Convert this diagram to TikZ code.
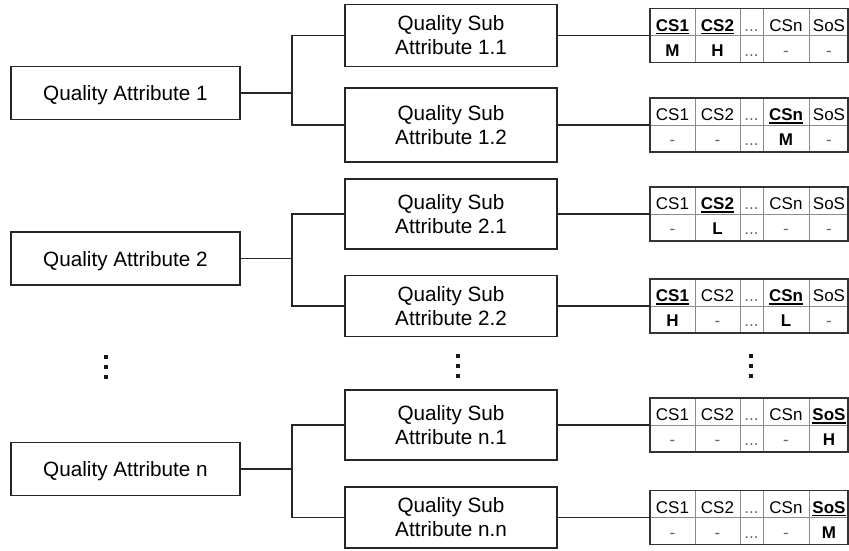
\documentclass[tikz,border=0pt]{standalone}
\usepackage{fontspec}
\setmainfont{Liberation Sans}
% bold, underlined header of the selected constituent system
\newcommand\hl[1]{\setbox0\hbox{\bfseries #1}\rlap{\rule[-3.1pt]{\wd0}{1.3pt}}\box0}
\newcommand\gr[1]{\textcolor{black!60}{#1}}
% table frame: name, centre y
\newcommand\cstable[2]{%
  \node[tablebox] (#1) at (749,#2) {};
  \draw[gridline] (#1.west) -- (#1.east);
  \foreach \gx in {695,740,763,809}
    \draw[gridline] (\gx,#2-27) -- (\gx,#2+27);
  \node[tablebox] at (749,#2) {};
}
% table cells: centre y, four headers, four values
\newcommand\cscells[9]{%
  \node[cell] at (672.5,#1-4.5) {#2};
  \node[cell] at (717.5,#1-4.5) {#3};
  \node[cell] at (751.5,#1-4.5) {\gr{...}};
  \node[cell] at (786,#1-4.5) {#4};
  \node[cell] at (829,#1-4.5) {#5};
  \node[cell] at (672.5,#1+20.7) {#6};
  \node[cell] at (717.5,#1+20.7) {#7};
  \node[cell] at (751.5,#1+20.7) {\gr{...}};
  \node[cell] at (786,#1+20.7) {#8};
  \node[cell] at (829,#1+20.7) {#9};
}
\newcommand\vdotsat[2]{%
  \foreach \dy in {-10,0,10}
    \fill[black!90] (#1-2,#2+\dy-2) rectangle (#1+2,#2+\dy+2);
}
\begin{document}
\begin{tikzpicture}[x=1pt,y=-1pt,
  conn/.style={line width=1.3pt, draw=black!85},
  attr/.style={conn, minimum width=229pt, minimum height=53pt, inner sep=0pt,
    font=\fontsize{20.7}{24}\selectfont, text depth=0pt},
  sub/.style={conn, minimum width=212pt, inner sep=0pt, align=center,
    font=\fontsize{20.7}{24}\selectfont},
  tablebox/.style={draw=black!80, line width=1.5pt, minimum width=198pt,
    minimum height=54pt, inner sep=0pt},
  gridline/.style={draw=black!45, line width=1pt},
  cell/.style={anchor=base, inner sep=0pt, font=\fontsize{17}{20}\selectfont}
]
\useasboundingbox (0,0) rectangle (849,550);

% quality attributes
\node[attr] (qa1) at (125.5,93) {Quality Attribute 1};
\node[attr] (qa2) at (125.5,258.5) {Quality Attribute 2};
\node[attr] (qan) at (125.5,469) {Quality Attribute n};

% quality sub attributes
\node[sub, minimum height=62pt] (s11) at (451,35.5) {Quality Sub\\Attribute 1.1};
\node[sub, minimum height=74pt] (s12) at (451,125) {Quality Sub\\Attribute 1.2};
\node[sub, minimum height=70pt] (s21) at (451,214) {Quality Sub\\Attribute 2.1};
\node[sub, minimum height=61pt] (s22) at (451,306) {Quality Sub\\Attribute 2.2};
\node[sub, minimum height=70pt] (sn1) at (451,425) {Quality Sub\\Attribute n.1};
\node[sub, minimum height=61pt] (snn) at (451,517.5) {Quality Sub\\Attribute n.n};

% branch joints
\coordinate (j1) at (292,93);
\coordinate (j2) at (292,258.5);
\coordinate (jn) at (292,469);

\draw[conn] (qa1.east) -- (j1);
\draw[conn] (s11.west) -| (j1) |- (s12.west);
\draw[conn] (qa2.east) -- (j2);
\draw[conn] (s21.west) -| (j2) |- (s22.west);
\draw[conn] (qan.east) -- (jn);
\draw[conn] (sn1.west) -| (jn) |- (snn.west);

% relevance tables
\cstable{t11}{35.5}
\cscells{35.5}{\hl{CS1}}{\hl{CS2}}{CSn}{SoS}{\textbf{M}}{\textbf{H}}{\gr{-}}{\gr{-}}
\cstable{t12}{125}
\cscells{125}{CS1}{CS2}{\hl{CSn}}{SoS}{\gr{-}}{\gr{-}}{\textbf{M}}{\gr{-}}
\cstable{t21}{214}
\cscells{214}{CS1}{\hl{CS2}}{CSn}{SoS}{\gr{-}}{\textbf{L}}{\gr{-}}{\gr{-}}
\cstable{t22}{306}
\cscells{306}{\hl{CS1}}{CS2}{\hl{CSn}}{SoS}{\textbf{H}}{\gr{-}}{\textbf{L}}{\gr{-}}
\cstable{tn1}{425}
\cscells{425}{CS1}{CS2}{CSn}{\hl{SoS}}{\gr{-}}{\gr{-}}{\gr{-}}{\textbf{H}}
\cstable{tnn}{517.5}
\cscells{517.5}{CS1}{CS2}{CSn}{\hl{SoS}}{\gr{-}}{\gr{-}}{\gr{-}}{\textbf{M}}

\draw[conn] (s11.east) -- (t11.west);
\draw[conn] (s12.east) -- (t12.west);
\draw[conn] (s21.east) -- (t21.west);
\draw[conn] (s22.east) -- (t22.west);
\draw[conn] (sn1.east) -- (tn1.west);
\draw[conn] (snn.east) -- (tnn.west);

% continuation marks
\vdotsat{106}{367}
\vdotsat{458}{366}
\vdotsat{751}{366}
\end{tikzpicture}
\end{document}
